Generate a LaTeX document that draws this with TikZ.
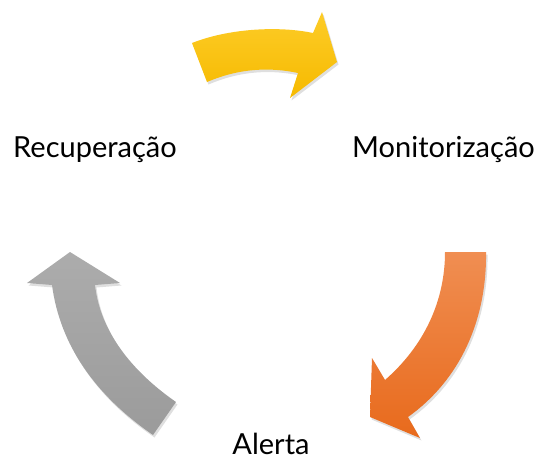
\documentclass[tikz,border=0pt]{standalone}
\usepackage{fontspec}
\setmainfont{Lato}
\usepackage{tikz}
\usetikzlibrary{shadows}

\definecolor{yellowtop}{RGB}{253,204,40}
\definecolor{yellowbot}{RGB}{246,186,0}
\definecolor{orangetop}{RGB}{240,142,82}
\definecolor{orangebot}{RGB}{232,106,28}
\definecolor{graytop}{RGB}{172,172,172}
\definecolor{graybot}{RGB}{155,155,155}

\tikzset{
    label/.style={inner sep=0pt, font=\fontsize{29}{35}\selectfont},
    blockarrow/.style={drop shadow={opacity=0.25, shadow xshift=1.5pt, shadow yshift=-2.5pt}}
}

\begin{document}
\begin{tikzpicture}[x=1pt, y=-1pt]
            \useasboundingbox (0,0) rectangle (536,459);

            % Nodes
            \node[label, anchor=base west] (rec) at (13,157) {Recuperação};
            \node[label, anchor=base east] (mon) at (535,157) {Monitorização};
            \node[label, anchor=base] (ale) at (271,454) {Alerta};

            % Arrows
            \path[blockarrow, top color=yellowtop, bottom color=yellowbot]
                (192,43) .. controls (230,28) and (280,26) .. (313,33)
                -- (322,12) -- (337,62) -- (290,98) -- (298,73)
                .. controls (265,66) and (235,70) .. (207,82) -- cycle;
            \path[blockarrow, top color=orangetop, bottom color=orangebot]
                (445,252) -- (486,252)
                .. controls (487,320) and (460,380) .. (408,417)
                -- (420,438) -- (370,417) -- (372,358) -- (385,380)
                .. controls (425,345) and (445,300) .. (445,252) -- cycle;
            \path[blockarrow, top color=graytop, bottom color=graybot]
                (70,252) -- (120,283) -- (95,285)
                .. controls (100,330) and (130,370) .. (176,402)
                -- (153,435)
                .. controls (95,395) and (60,345) .. (52,285)
                -- (27,283) -- cycle;
        \end{tikzpicture}
\end{document}
